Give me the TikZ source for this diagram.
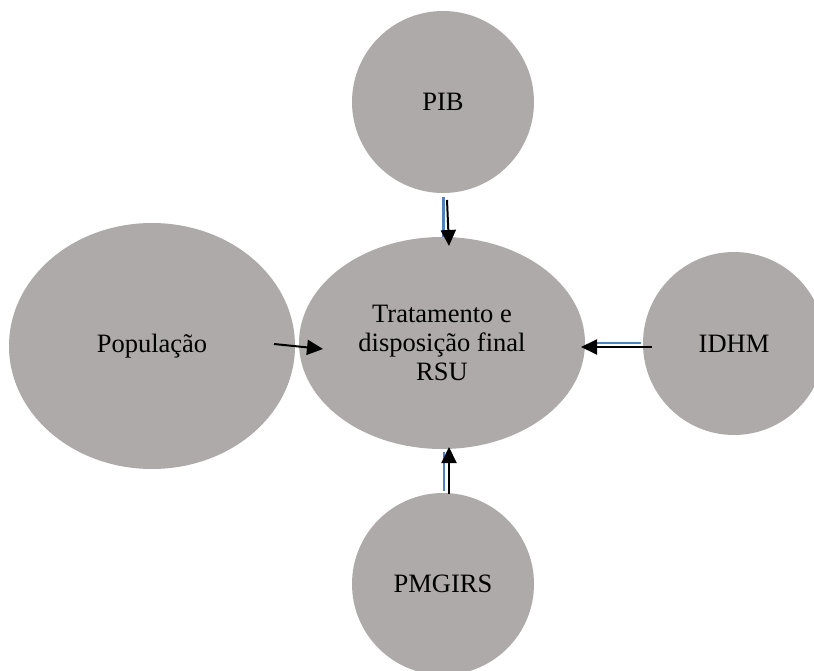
\documentclass[tikz,border=0pt]{standalone}
\usepackage{fontspec}
\setmainfont{Liberation Serif}
\usetikzlibrary{shapes.geometric,arrows.meta}
\definecolor{bubble}{RGB}{174,170,169}
\definecolor{bluebar}{RGB}{79,129,189}
\tikzset{
  bubble/.style={ellipse,fill=bubble,draw=none,inner sep=0pt,
    font=\fontsize{26.5}{29}\selectfont,align=center},
  arr/.style={draw=black,line width=2pt,-{Triangle[length=16pt,width=15pt]}},
  bar/.style={draw=bluebar,line width=2.6pt}
}
\begin{document}
\begin{tikzpicture}[x=1pt,y=-1pt]
\useasboundingbox (0,0) rectangle (814,671);
\clip (0,0) rectangle (814,671);
\node[bubble,minimum width=182pt,minimum height=182pt] (pib) at (443,102) {PIB};
\node[bubble,minimum width=286pt,minimum height=246pt] (pop) at (152,346) {População};
\node[bubble,minimum width=182pt,minimum height=183pt] (idhm) at (734,343.5) {IDHM};
\node[bubble,minimum width=182pt,minimum height=182pt] (pmg) at (443,584) {PMGIRS};
\node[bubble,minimum width=286pt,minimum height=212pt] (rsu) at (442,343) {Tratamento e\\disposição final\\RSU};
% bars
\coordinate (b1a) at (443.5,197); \coordinate (b1b) at (443.5,237);
\coordinate (b2a) at (444,452); \coordinate (b2b) at (444,491);
\coordinate (b3a) at (597,343); \coordinate (b3b) at (641,343);
\draw[bar] (b1a) -- (b1b);
\draw[bar] (b2a) -- (b2b);
\draw[bar] (b3a) -- (b3b);
% arrows
\coordinate (a1s) at (447,200); \coordinate (a1e) at (449,246);
\coordinate (a2s) at (449,494); \coordinate (a2e) at (449,447);
\coordinate (a3s) at (652,347); \coordinate (a3e) at (581,347);
\coordinate (a4s) at (274,344); \coordinate (a4e) at (323,349);
\draw[arr] (a1s) -- (a1e);
\draw[arr] (a2s) -- (a2e);
\draw[arr] (a3s) -- (a3e);
\draw[arr] (a4s) -- (a4e);
\end{tikzpicture}
\end{document}
